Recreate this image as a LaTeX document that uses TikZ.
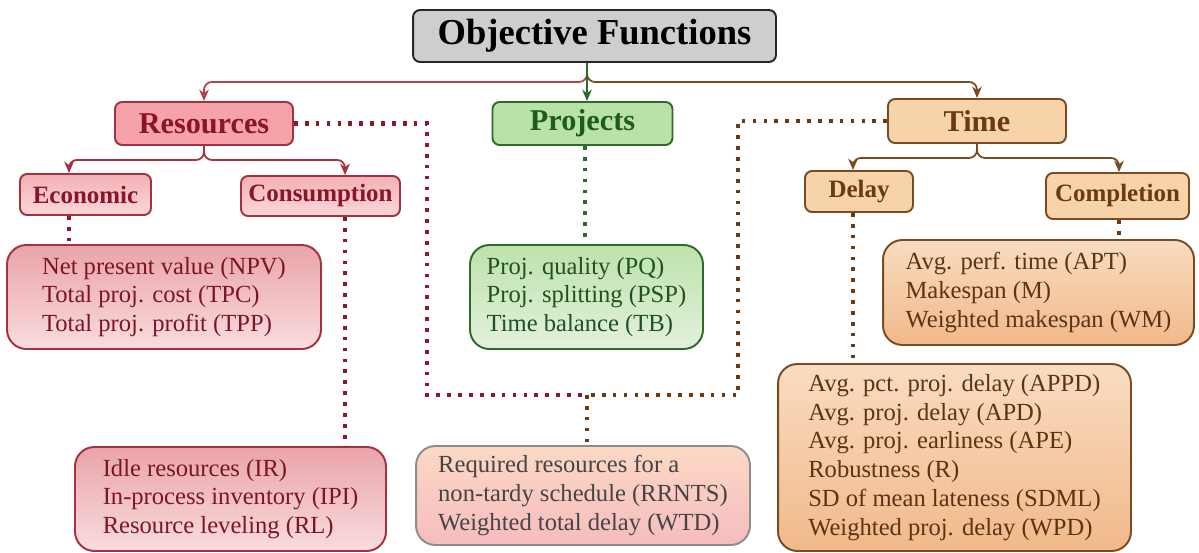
\documentclass[tikz,border=0pt]{standalone}
\usepackage{fontspec}
\setmainfont{Liberation Serif}
\usetikzlibrary{arrows.meta}

% palette
\definecolor{redline}{HTML}{A5303F}
\definecolor{redtext}{HTML}{8A1428}
\definecolor{reditem}{HTML}{7D1526}
\definecolor{redfill}{HTML}{F5A3A9}
\definecolor{redsubtop}{HTML}{F3B0B5}
\definecolor{redsubbot}{HTML}{FAD8DA}
\definecolor{reditop}{HTML}{E9A4AA}
\definecolor{redibot}{HTML}{F9DCDE}
\definecolor{redconn}{HTML}{B5404E}
\definecolor{reddot}{HTML}{8A1A2A}
\definecolor{grnline}{HTML}{2E6B2B}
\definecolor{grntext}{HTML}{1D5C1D}
\definecolor{grnitem}{HTML}{1F5220}
\definecolor{grnfill}{HTML}{B8E2A8}
\definecolor{grnitop}{HTML}{BDE2AC}
\definecolor{grnibot}{HTML}{E3F1DD}
\definecolor{brnline}{HTML}{7A4B22}
\definecolor{brntext}{HTML}{6A3A12}
\definecolor{brnitem}{HTML}{5C3414}
\definecolor{brnfill}{HTML}{F6D3A8}
\definecolor{brnitop}{HTML}{F9DCC0}
\definecolor{brnibot}{HTML}{F1B98A}
\definecolor{brndot}{HTML}{6A3A12}
\definecolor{objfill}{HTML}{D0CDCD}
\definecolor{mixline}{HTML}{8C8C8C}
\definecolor{mixtop}{HTML}{FCD9C3}
\definecolor{mixbot}{HTML}{F6BCC0}
\definecolor{mixtext}{HTML}{454545}

\tikzset{
  box/.style={draw, line width=1.1pt, inner sep=0pt, align=center},
  title/.style={box, rounded corners=4pt, draw=black!85, fill=objfill,
    font=\bfseries\fontsize{20.8}{24}\selectfont},
  head/.style={box, rounded corners=4pt, font=\bfseries\fontsize{17.2}{20}\selectfont},
  sub/.style={box, rounded corners=4pt, font=\bfseries\fontsize{14.2}{17}\selectfont},
  items/.style={box, rounded corners=11pt, align=left,
    font=\fontsize{14}{16.4}\selectfont},
  redset/.style={draw=redline, text=redtext},
  grnset/.style={draw=grnline, text=grntext},
  brnset/.style={draw=brnline, text=brntext},
  link/.style={line width=1pt, rounded corners=4.5pt,
    -{Stealth[length=6.5pt,width=5.5pt,inset=2pt]}},
  dots/.style={line width=2.3pt, dash pattern=on 2.1pt off 4.1pt},
}

\begin{document}
\begin{tikzpicture}[x=0.02cm,y=-0.02cm]
\useasboundingbox (0,0) rectangle (1199,553);

% top level
\node[title, minimum width=7.26cm, minimum height=1.04cm] (obj) at (594.5,36) {Objective Functions};

% main categories
\node[head, redset, fill=redfill, minimum width=3.56cm, minimum height=0.86cm] (res) at (204,123.5) {Resources};
\node[head, grnset, fill=grnfill, minimum width=3.6cm, minimum height=0.86cm] (proj) at (582.5,123.5) {Projects};
\node[head, brnset, fill=brnfill, minimum width=3.56cm, minimum height=0.88cm] (time) at (977,121) {Time};

% sub-categories
\node[sub, redset, top color=redsubtop, bottom color=redsubbot, minimum width=2.62cm, minimum height=0.82cm] (econ) at (85.5,194.5) {Economic};
\node[sub, redset, top color=redsubtop, bottom color=redsubbot, minimum width=3.18cm, minimum height=0.80cm] (cons) at (320.5,196) {Consumption};
\node[sub, brnset, fill=brnfill, minimum width=2.16cm, minimum height=0.82cm] (delay) at (859,191.5) {Delay};
\node[sub, brnset, fill=brnfill, minimum width=2.86cm, minimum height=0.92cm] (compl) at (1117.5,196) {Completion};

% objective lists
\node[items, draw=redline, text=reditem, top color=reditop, bottom color=redibot,
  minimum width=6.28cm, minimum height=2.08cm] (npv) at (164,297)
  {Net present value (NPV)\\Total proj. cost (TPC)\\Total proj. profit (TPP)};
\node[items, draw=grnline, text=grnitem, top color=grnitop, bottom color=grnibot,
  minimum width=4.66cm, minimum height=2.08cm] (pq) at (586.5,297)
  {Proj. quality (PQ)\\Proj. splitting (PSP)\\Time balance (TB)};
\node[items, draw=brnline, text=brnitem, top color=brnitop, bottom color=brnibot,
  minimum width=6.22cm, minimum height=2.10cm] (apt) at (1038.5,292.5)
  {Avg. perf. time (APT)\\Makespan (M)\\Weighted makespan (WM)};
\node[items, draw=redline, text=reditem, top color=reditop, bottom color=redibot,
  minimum width=6.22cm, minimum height=2.08cm] (ir) at (230.5,499)
  {Idle resources (IR)\\In-process inventory (IPI)\\Resource leveling (RL)};
\node[items, draw=mixline, text=mixtext, top color=mixtop, bottom color=mixbot,
  minimum width=6.68cm, minimum height=1.98cm] (rr) at (583,495.5)
  {Required resources for a\\non-tardy schedule (RRNTS)\\Weighted total delay (WTD)};
\node[items, draw=brnline, text=brnitem, top color=brnitop, bottom color=brnibot,
  minimum width=7.06cm, minimum height=3.74cm] (appd) at (954.5,457.5)
  {Avg. pct. proj. delay (APPD)\\Avg. proj. delay (APD)\\Avg. proj. earliness (APE)\\Robustness (R)\\SD of mean lateness (SDML)\\Weighted proj. delay (WPD)};

% reference columns for the connectors
\coordinate (fork) at (587,0);
\coordinate (econx) at (69,0);
\coordinate (consx) at (345,0);
\coordinate (projx) at (585,0);
\coordinate (delx) at (853,0);
\coordinate (comx) at (1119,0);
\coordinate (rcol) at (427,0);
\coordinate (tcol) at (738,0);
\coordinate (join) at (587,395);

% tree from the top box
\draw[link, draw=redconn] (obj.south -| fork) -- ++(0,19) -| (res.north);
\draw[link, draw=brnline] (obj.south -| fork) -- ++(0,19) -| (time.north);
\draw[link, draw=grnline, rounded corners=0pt] (obj.south -| fork) -- (proj.north -| fork);

% tree below Resources
\draw[link, draw=redline] (res.south) -- ++(0,14) -| (econ.north -| econx);
\draw[link, draw=redline] (res.south) -- ++(0,14) -| (cons.north -| consx);

% tree below Time
\draw[link, draw=brnline] (time.south) -- ++(0,14) -| (delay.north -| delx);
\draw[link, draw=brnline] (time.south) -- ++(0,14) -| (compl.north -| comx);

% dotted links to the lists
\draw[dots, reddot] (econ.south -| econx) -- (npv.north -| econx);
\draw[dots, reddot] (cons.south -| consx) -- (ir.north -| consx);
\draw[dots, grnline] (proj.south -| projx) -- (pq.north -| projx);
\draw[dots, brndot] (delay.south -| delx) -- (appd.north -| delx);
\draw[dots, brndot] (compl.south -| comx) -- (apt.north -| comx);

% shared list fed by Resources and Time
\draw[dots, reddot] (res.east) -- (res.east -| rcol) -- (join -| rcol) -- (join);
\draw[dots, brndot] (time.west) -- (time.west -| tcol) -- (join -| tcol) -- (join);
\draw[dots, brndot] (join) -- (rr.north -| join);
\end{tikzpicture}
\end{document}
